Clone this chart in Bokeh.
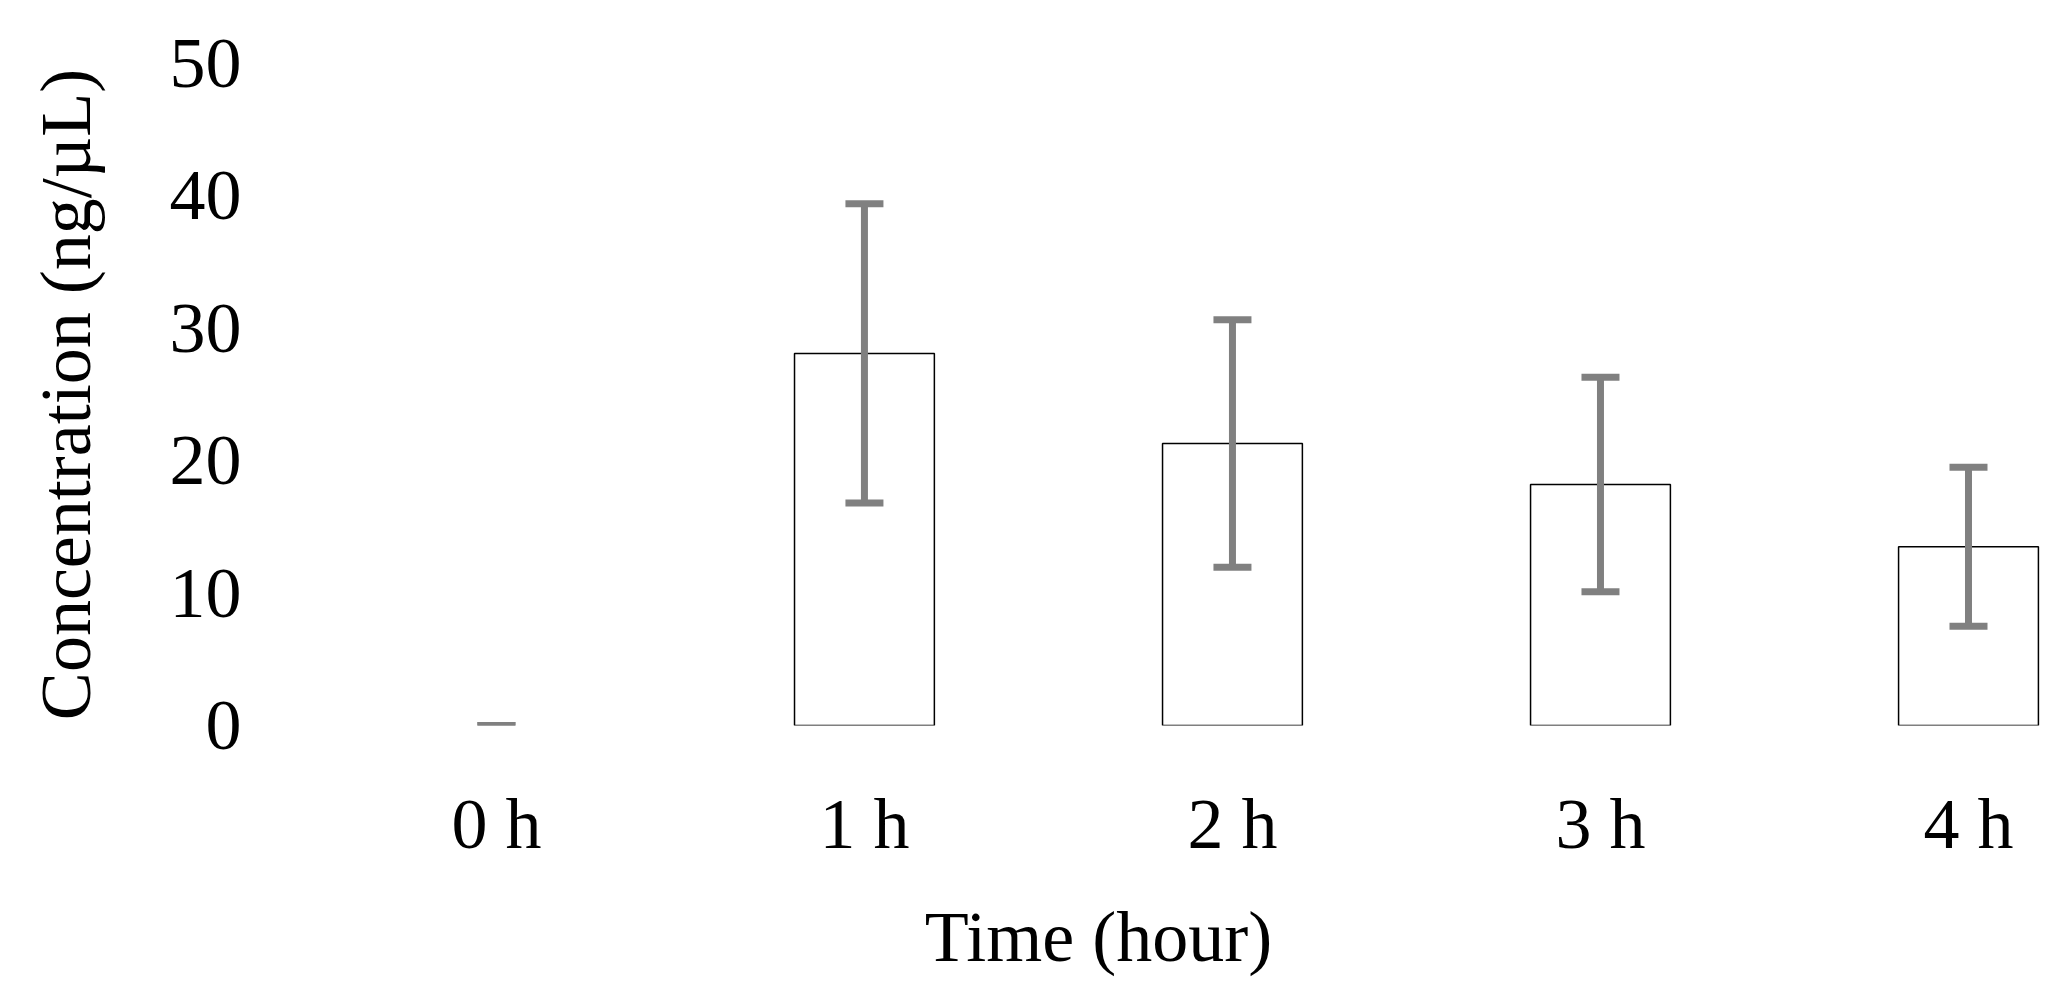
from bokeh.plotting import figure
from bokeh.models import ColumnDataSource, Range1d, FixedTicker, Whisker, TeeHead
from bokeh.embed import file_html
from bokeh.resources import INLINE

# ---- data ----
hours = [0, 1, 2, 3, 4]
hour_labels = ["0 h", "1 h", "2 h", "3 h", "4 h"]
mean_conc = [0.0, 28.1, 21.3, 18.2, 13.5]
err_conc = [0.0, 11.3, 9.35, 8.1, 6.0]
y_ticks = [0, 10, 20, 30, 40, 50]

FONT = "Liberation Serif"
FS = "72px"
GRAY = "#808080"

# The frame spans the whole chart area, so the x title is centred as in the reference
p = figure(width=2060, height=982,
           x_range=Range1d(-0.978, 4.25), y_range=Range1d(0, 50),
           output_backend="svg", toolbar_location=None,
           min_border_left=136, min_border_right=0,
           min_border_top=63, min_border_bottom=257)
p.outline_line_color = None
p.background_fill_color = "white"
p.border_fill_color = "white"
p.xgrid.grid_line_color = None
p.ygrid.grid_line_color = None

# bars (zero-height bars are not drawn, as in the reference)
bar_src = ColumnDataSource(dict(
    x=[h for h, m in zip(hours, mean_conc) if m > 0],
    top=[m for m in mean_conc if m > 0],
))
p.vbar(x="x", top="top", bottom=0, width=0.38, source=bar_src,
       fill_color="white", line_color="black", line_width=1.5)

# error bars
err_src = ColumnDataSource(dict(
    x=hours,
    lower=[m - e for m, e in zip(mean_conc, err_conc)],
    upper=[m + e for m, e in zip(mean_conc, err_conc)],
))
w = Whisker(base="x", lower="lower", upper="upper", source=err_src,
            line_color=GRAY, line_width=7, level="overlay",
            upper_head=TeeHead(size=38, line_color=GRAY, line_width=7),
            lower_head=TeeHead(size=38, line_color=GRAY, line_width=7))
p.add_layout(w)

# axes
p.xaxis.ticker = FixedTicker(ticks=hours)
p.xaxis.major_label_overrides = {h: l for h, l in zip(hours, hour_labels)}
p.yaxis.ticker = FixedTicker(ticks=y_ticks)

for ax in (p.xaxis[0], p.yaxis[0]):
    ax.axis_line_color = None
    ax.major_tick_line_color = None
    ax.minor_tick_line_color = None
    ax.major_tick_out = 0
    ax.major_tick_in = 0
    ax.major_label_text_font = FONT
    ax.major_label_text_font_size = FS
    ax.major_label_text_color = "black"
    ax.axis_label_text_font = FONT
    ax.axis_label_text_font_size = FS
    ax.axis_label_text_font_style = "normal"
    ax.axis_label_text_color = "black"

p.xaxis.axis_label = "Time (hour)"
p.yaxis.axis_label = "Concentration (ng/µL)"
p.xaxis.major_label_standoff = 58
p.xaxis.axis_label_standoff = 30
p.yaxis.major_label_standoff = -105
p.yaxis.axis_label_standoff = 61

open("out.html", "w").write(file_html(p, INLINE))
